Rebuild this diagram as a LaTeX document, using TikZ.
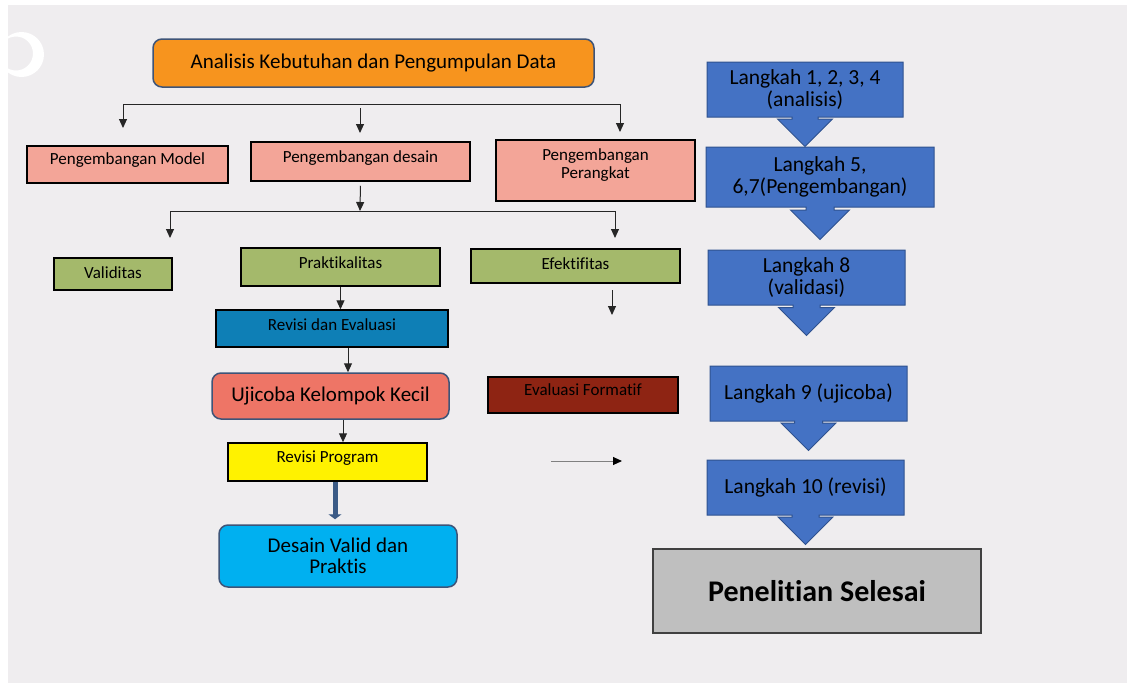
\documentclass[tikz,border=0pt]{standalone}
\usepackage{fontspec}
\setmainfont{Carlito}[Ligatures=NoCommon]
\usetikzlibrary{arrows.meta,shapes.arrows}

\definecolor{bgcol}{HTML}{EFEDEF}
\definecolor{orangefill}{HTML}{F7941E}
\definecolor{edgeblue}{HTML}{3E5478}
\definecolor{pinkfill}{HTML}{F3A598}
\definecolor{greenfill}{HTML}{A4B96B}
\definecolor{revblue}{HTML}{0E7FB6}
\definecolor{ujired}{HTML}{EE7566}
\definecolor{evalred}{HTML}{8E2413}
\definecolor{validblue}{HTML}{00B0F0}
\definecolor{stepblue}{HTML}{4472C4}
\definecolor{stepedge}{HTML}{2F528F}
\definecolor{endgray}{HTML}{BFBFBF}
\definecolor{thickblue}{HTML}{3B5A86}

\begin{document}
\begin{tikzpicture}[x=1pt,y=-1pt,
    box/.style={rectangle,draw=black,line width=1.5pt,inner sep=0pt,
      font=\fontsize{17}{18}\selectfont},
    lift/.style={text height=12pt,text depth=#1},
    big/.style={font=\fontsize{21}{21}\selectfont},
    roundbox/.style={box,draw=edgeblue,rounded corners=9pt},
    stepbox/.style={arrow box,fill=stepblue,draw=stepedge,line width=1pt,
      inner sep=0pt,align=center,font=\fontsize{21.5}{21.5}\selectfont,
      arrow box north arrow=-1pt,arrow box east arrow=-1pt,
      arrow box west arrow=-1pt},
    tip/.style={-{Triangle[length=9pt,width=8pt]}},
    line/.style={draw=black!85,line width=1pt}]

  \useasboundingbox (0,0) rectangle (1127,683);
  \fill[bgcol] (8,5) rectangle (1127,683);
  \fill[white,even odd rule] (21.5,54.5) circle (22.5) (16,53.5) circle (17);

  \begin{scope}[every node/.style={box}]
    \node[roundbox,fill=orangefill,big,minimum width=441pt,minimum height=48pt] (1) at (373.5,63) {Analisis Kebutuhan dan Pengumpulan Data};
    \node[fill=pinkfill,lift=13pt,minimum width=201pt,minimum height=37pt] (2) at (127.5,164.5) {Pengembangan Model};
    \node[fill=pinkfill,lift=11pt,minimum width=219pt,minimum height=39pt] (3) at (360.5,161.5) {Pengembangan desain};
    \node[fill=pinkfill,align=center,text height=30pt,text depth=15pt,minimum width=199pt,minimum height=61pt] (4) at (595.5,170.5) {Pengembangan\\Perangkat};
    \node[fill=greenfill,lift=4pt,minimum width=118pt,minimum height=32pt] (5) at (113,274) {Validitas};
    \node[fill=greenfill,lift=10pt,minimum width=199pt,minimum height=38pt] (6) at (340.5,267) {Praktikalitas};
    \node[fill=greenfill,lift=6pt,minimum width=209pt,minimum height=34pt] (7) at (575.5,266) {Efektifitas};
    \node[fill=revblue,lift=9pt,minimum width=232pt,minimum height=37pt] (8) at (332,328.5) {Revisi dan Evaluasi};
    \node[roundbox,fill=ujired,big,minimum width=237pt,minimum height=46pt] (9) at (330.5,396) {Ujicoba Kelompok Kecil};
    \node[fill=evalred,lift=12pt,minimum width=190pt,minimum height=36pt] (10) at (583,395) {Evaluasi Formatif};
    \node[fill=yellow,lift=12pt,minimum width=199pt,minimum height=38pt] (11) at (327.5,462) {Revisi Program};
    \node[roundbox,fill=validblue,big,align=center,minimum width=238pt,minimum height=62pt] (12) at (338,556) {Desain Valid dan\\Praktis};
    \node[fill=endgray,draw=black!75,font=\bfseries\fontsize{30}{30}\selectfont,minimum width=328pt,minimum height=84pt] (18) at (817,591) {Penelitian Selesai};
  \end{scope}

  \begin{scope}[every node/.style={stepbox}]
    \node[minimum width=196pt,minimum height=55pt,arrow box south arrow=29pt,arrow box shaft width=26pt,arrow box head extend=14.5pt] (13) at (805,89.5) {Langkah 1, 2, 3, 4\\(analisis)};
    \node[minimum width=228pt,minimum height=60pt,arrow box south arrow=32pt,arrow box shaft width=28pt,arrow box head extend=15.5pt] (14) at (820,177) {Langkah 5,\\6,7(Pengembangan)};
    \node[minimum width=197pt,minimum height=55pt,arrow box south arrow=30pt,arrow box shaft width=27pt,arrow box head extend=14.5pt] (15) at (806.5,277.5) {Langkah 8\\(validasi)};
    \node[minimum width=197pt,minimum height=55pt,arrow box south arrow=29pt,arrow box shaft width=28pt,arrow box head extend=13.5pt] (16) at (808.5,393.5) {Langkah 9 (ujicoba)};
    \node[minimum width=197pt,minimum height=55pt,arrow box south arrow=29pt,arrow box shaft width=27pt,arrow box head extend=14pt] (17) at (805.5,487.5) {Langkah 10 (revisi)};
  \end{scope}

  \coordinate (a1) at (123,128);
  \coordinate (a2) at (123,104);
  \coordinate (a3) at (620,104);
  \coordinate (a4) at (620,132);
  \coordinate (b1) at (360,108);
  \coordinate (b2) at (360,133);
  \coordinate (c1) at (170,238);
  \coordinate (c2) at (170,211);
  \coordinate (c3) at (615,211);
  \coordinate (c4) at (615,238);
  \coordinate (c5) at (360,211);
  \coordinate (d1) at (612,290);
  \coordinate (d2) at (612,315);
  \coordinate (f1) at (551,461);
  \coordinate (f2) at (622,461);

  \draw[line,{Triangle[length=9pt,width=8pt]}-{Triangle[length=9pt,width=8pt]}] (a1) -- (a2) -- (a3) -- (a4);
  \draw[line,tip] (b1) -- (b2);
  \draw[line,tip,shorten <=4pt] (3.south) -- (c5);
  \draw[line,{Triangle[length=9pt,width=8pt]}-{Triangle[length=9pt,width=8pt]}] (c1) -- (c2) -- (c3) -- (c4);
  \draw[line,tip] (d1) -- (d2);
  \draw[line,tip] (6.south) -- (6.south |- 8.north);
  \draw[line,tip] ([xshift=16pt]8.south) -- ([xshift=16pt]8.south |- 9.north);
  \draw[line,tip] ([xshift=12.5pt]9.south) -- ([xshift=12.5pt]9.south |- 11.north);
  \draw[thickblue,line width=5pt,-{Triangle[length=5pt,width=13pt]},shorten >=5pt] ([xshift=7.5pt]11.south) -- ([xshift=7.5pt]11.south |- 12.north);
  \draw[draw=gray,line width=1pt,-{Triangle[black,length=9pt,width=8pt]}] (f1) -- (f2);

\end{tikzpicture}
\end{document}
